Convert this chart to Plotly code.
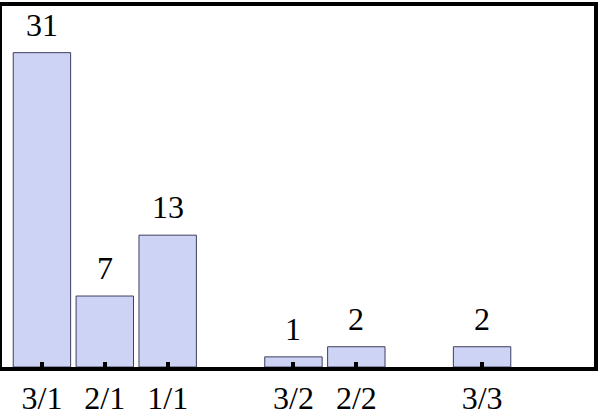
import plotly.graph_objects as go

# categorias (los huecos vacios separan los grupos)
categorias = ["3/1", "2/1", "1/1", " ", "3/2", "2/2", "  ", "3/3", "   "]
etiquetas = ["3/1", "2/1", "1/1", "3/2", "2/2", "3/3"]
valores = [31, 7, 13, 1, 2, 2]

fig = go.Figure()

fig.add_trace(go.Bar(
    x=etiquetas,
    y=valores,
    marker=dict(color="#CDD3F5", line=dict(color="#3E3E5E", width=1)),
    width=0.913,
    showlegend=False,
    hoverinfo="skip"
))

# Valores sobre las barras
for cat, val in zip(etiquetas, valores):
    fig.add_annotation(
        x=cat, y=val,
        text=str(val),
        showarrow=False,
        yanchor="bottom",
        yshift=8,
        font=dict(size=32, color="black", family="Liberation Serif")
    )

fig.update_layout(
    width=600,
    height=418,
    margin=dict(l=2, r=2, t=2, b=48),
    plot_bgcolor="white",
    paper_bgcolor="white",
    xaxis=dict(
        type="category",
        categoryorder="array",
        categoryarray=categorias,
        tickvals=etiquetas,
        ticktext=etiquetas,
        range=[-0.635, 8.78],
        showline=True, mirror=True, linecolor="black", linewidth=4,
        ticks="inside", ticklen=5, tickwidth=4, tickcolor="black",
        tickfont=dict(size=32, color="black", family="Liberation Serif"),
        showgrid=False, zeroline=False,
    ),
    yaxis=dict(
        range=[0, 35.6],
        showline=True, mirror=True, linecolor="black", linewidth=4,
        showticklabels=False, ticks="",
        showgrid=False, zeroline=False,
    ),
)

fig.write_html("out.html", config={"displayModeBar": False},
               post_script="document.body.style.margin='0';")
